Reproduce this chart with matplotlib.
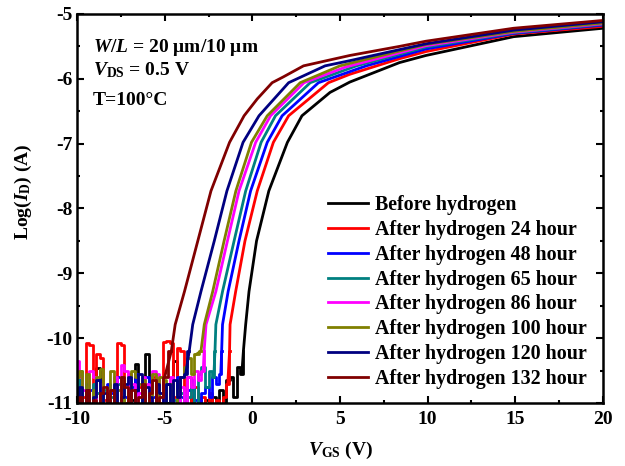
import matplotlib
matplotlib.use("Agg")
import matplotlib.pyplot as plt
from matplotlib.ticker import MultipleLocator

plt.rcParams['font.family'] = ['Liberation Serif', 'DejaVu Serif']
plt.rcParams['font.weight'] = 'bold'
plt.rcParams['axes.unicode_minus'] = False
plt.rcParams['mathtext.fontset'] = 'custom'
plt.rcParams['mathtext.rm'] = 'Liberation Serif:bold'
plt.rcParams['mathtext.bf'] = 'Liberation Serif:bold'
plt.rcParams['mathtext.it'] = 'Liberation Serif:bold:italic'

# gate voltage grid of the noisy off-current floor (V)
v_floor = [-10.0, -9.8, -9.6, -9.4, -9.2, -9.0, -8.8, -8.6, -8.4, -8.2,
           -8.0, -7.8, -7.6, -7.4, -7.2, -7.0, -6.8, -6.6, -6.4, -6.2,
           -6.0, -5.8, -5.6, -5.4, -5.2, -5.0, -4.8, -4.6, -4.4, -4.2,
           -4.0, -3.8, -3.6, -3.4, -3.2, -3.0, -2.8, -2.6, -2.4, -2.2,
           -2.0, -1.8, -1.6, -1.4, -1.2, -1.0, -0.8, -0.6]

labels = ["Before hydrogen", "After hydrogen 24 hour", "After hydrogen 48 hour",
          "After hydrogen 65 hour", "After hydrogen 86 hour", "After hydrogen 100 hour",
          "After hydrogen 120 hour", "After hydrogen 132 hour"]
colors = ["#000000", "#ff0000", "#0000ff", "#008080", "#ff00ff", "#808000",
          "#000080", "#800000"]

# off-state floor, log(ID) at the v_floor points
floor_0h = [-11.2, -11.1, -11.2, -11.05, -11.2, -11.1, -10.46, -11.15, -11.2, -11.05,
            -11.2, -11.1, -11.2, -11.0, -11.2, -11.1, -10.95, -10.4, -11.15, -11.0,
            -10.25, -11.1, -11.2, -11.05, -11.2, -11.1, -11.0, -11.15, -10.35, -11.1,
            -11.2, -11.05, -11.15, -10.9, -11.2, -11.05, -11.1, -10.95, -11.2, -10.9,
            -11.1, -10.8, -11.0, -10.65, -10.6, -10.9, -10.45, -10.55]
floor_24h = [-10.7, -11.1, -10.9, -10.08, -10.1, -11.0, -10.25, -10.3, -10.95, -11.1,
             -10.8, -11.05, -10.08, -10.1, -11.0, -10.55, -11.1, -10.9, -10.75, -10.7,
             -11.1, -10.95, -10.6, -10.8, -11.0, -10.06, -10.05, -10.08, -10.9, -10.15,
             -10.2, -10.9, -10.6, -11.0, -10.75, -11.1, -10.9, -11.05, -10.85, -11.1,
             -10.95, -11.1, -10.9, -10.7]
floor_48h = [-10.8, -10.6, -11.2, -10.7, -10.8, -11.15, -10.65, -10.95, -11.1, -10.7,
             -10.85, -11.1, -10.6, -11.0, -10.9, -11.15, -10.75, -10.55, -11.1, -10.8,
             -10.6, -11.05, -10.9, -10.65, -11.2, -10.95, -10.7, -10.85, -11.2, -10.6,
             -10.9, -11.15, -10.8, -10.65, -10.95, -11.2, -10.85, -10.75, -10.9, -10.6,
             -10.7, -10.55]
floor_65h = [-10.8, -10.5, -11.1, -10.75, -11.2, -10.7, -10.85, -11.15, -10.8, -11.0,
             -10.9, -11.2, -10.7, -10.95, -11.2, -10.8, -11.15, -10.9, -11.2, -10.75,
             -11.1, -10.85, -11.2, -10.7, -11.15, -10.9, -11.1, -10.75, -10.95, -11.1,
             -10.85, -11.15, -10.9, -10.7, -11.1, -10.55, -10.45, -10.75, -10.5, -10.6]
floor_86h = [-10.35, -10.6, -10.8, -11.2, -10.5, -10.6, -11.1, -10.7, -11.2, -10.8,
             -11.1, -10.6, -11.15, -10.42, -10.5, -11.1, -10.7, -11.2, -10.85, -10.6,
             -10.7, -11.2, -10.5, -10.55, -11.1, -10.9, -11.15, -10.6, -11.0, -11.2,
             -10.75, -11.1, -10.6, -10.75, -10.5, -10.65, -10.5]
floor_100h = [-10.6, -10.5, -11.1, -10.55, -11.2, -10.8, -10.6, -10.47, -11.1, -10.9,
              -10.5, -11.15, -10.8, -10.6, -11.2, -10.85, -10.5, -10.6, -10.7, -10.65,
              -11.2, -10.9, -10.55, -11.1, -10.6, -10.65, -11.1, -10.7, -11.2, -10.8,
              -10.6, -10.45, -10.3, -10.55, -10.25]
floor_120h = [-11.0, -10.75, -11.2, -10.8, -11.2, -10.9, -10.65, -11.1, -10.85, -10.95,
              -11.15, -10.7, -11.2, -10.9, -10.7, -10.6, -11.1, -10.8, -10.55, -11.05,
              -10.75, -10.9, -11.1, -10.7, -10.85, -11.1, -10.7, -11.0, -10.65, -10.9,
              -10.6, -10.55]
floor_132h = [-11.1, -10.9, -11.2, -10.8, -11.15, -10.95, -11.1, -10.85, -10.75, -11.2,
              -10.8, -11.0, -11.2, -10.6, -10.75, -11.1, -10.8, -11.15, -10.9, -10.7,
              -11.1, -10.85, -10.65, -11.1, -10.9, -10.6]

# turn-on branch: gate voltage (V) and log(ID)
v_on_0h = [-0.51, -0.38, -0.19, 0.24, 0.94, 2.0, 2.83, 4.43, 5.56, 8.39, 9.9, 14.9, 20.0]
y_on_0h = [-10.2, -9.79, -9.28, -8.5, -7.73, -6.98, -6.57, -6.21, -6.05, -5.75, -5.64, -5.35, -5.22]
v_on_24h = [-1.3, -1.27, -0.95, -0.42, 0.28, 1.2, 2.07, 4.34, 5.56, 8.39, 9.9, 14.9, 20.0]
y_on_24h = [-10.2, -9.79, -9.28, -8.5, -7.73, -6.98, -6.57, -6.06, -5.93, -5.69, -5.58, -5.31, -5.19]
v_on_48h = [-1.75, -1.7, -1.38, -0.76, -0.1, 0.85, 1.7, 3.77, 6.5, 9.9, 14.9, 20.0]
y_on_48h = [-10.2, -9.79, -9.28, -8.5, -7.73, -6.98, -6.57, -6.06, -5.8, -5.54, -5.30, -5.17]
v_on_65h = [-2.13, -2.08, -1.7, -1.04, -0.38, 0.5, 1.32, 3.3, 5.94, 9.9, 14.9, 20.0]
y_on_65h = [-10.2, -9.79, -9.28, -8.5, -7.73, -6.98, -6.57, -6.06, -5.8, -5.51, -5.29, -5.16]
v_on_86h = [-2.75, -2.64, -2.08, -1.42, -0.76, 0.19, 1.04, 2.95, 5.3, 9.9, 14.9, 20.0]
y_on_86h = [-10.2, -9.79, -9.28, -8.5, -7.73, -6.98, -6.57, -6.06, -5.82, -5.49, -5.28, -5.15]
v_on_100h = [-2.93, -2.74, -2.26, -1.61, -0.94, -0.05, 0.85, 2.73, 5.0, 9.9, 14.9, 20.0]
y_on_100h = [-10.2, -9.79, -9.28, -8.5, -7.73, -6.98, -6.57, -6.06, -5.8, -5.47, -5.27, -5.14]
v_on_120h = [-3.6, -3.4, -2.93, -2.17, -1.45, -0.53, 0.38, 2.07, 4.15, 5.56, 8.39, 9.9, 14.9, 20.0]
y_on_120h = [-10.2, -9.79, -9.28, -8.5, -7.73, -6.98, -6.57, -6.06, -5.8, -5.72, -5.55, -5.46, -5.25, -5.12]
v_on_132h = [-4.62, -4.4, -3.87, -3.11, -2.36, -1.3, -0.47, 0.28, 1.13, 1.77, 2.92, 5.56, 8.39, 9.9, 14.9, 20.0]
y_on_132h = [-10.2, -9.79, -9.28, -8.5, -7.73, -6.98, -6.57, -6.31, -6.06, -5.97, -5.8, -5.64, -5.5, -5.42, -5.22, -5.10]

floors = [floor_0h, floor_24h, floor_48h, floor_65h, floor_86h, floor_100h, floor_120h, floor_132h]
v_ons = [v_on_0h, v_on_24h, v_on_48h, v_on_65h, v_on_86h, v_on_100h, v_on_120h, v_on_132h]
y_ons = [y_on_0h, y_on_24h, y_on_48h, y_on_65h, y_on_86h, y_on_100h, y_on_120h, y_on_132h]

fig = plt.figure(figsize=(6.25, 4.66), dpi=100)
ax = fig.add_axes([0.1232, 0.1352, 0.8416, 0.8348])

for fl, vo, yo, c, lab in zip(floors, v_ons, y_ons, colors, labels):
    # noisy floor drawn as steps, then the turn-on branch
    ax.plot(v_floor[:len(fl)] + vo[:1], fl + yo[:1], color=c, lw=2.0,
            drawstyle='steps-mid')
    ax.plot(v_floor[len(fl) - 1:len(fl)] + vo, fl[-1:] + yo, color=c, lw=2.0,
            label=lab, solid_joinstyle='round')

ax.set_xlim(-10, 20)
ax.set_ylim(-11, -5)
ax.xaxis.set_major_locator(MultipleLocator(5))
ax.xaxis.set_minor_locator(MultipleLocator(2.5))
ax.yaxis.set_major_locator(MultipleLocator(1))
ax.yaxis.set_minor_locator(MultipleLocator(0.5))
ax.tick_params(which='both', direction='in', top=True, right=True, width=1.5,
               labelsize=14)
ax.tick_params(which='major', length=5)
ax.tick_params(which='minor', length=2.5)
ax.tick_params(axis='x', pad=6)
ax.tick_params(axis='y', pad=3.5)
for s in ax.spines.values():
    s.set_linewidth(1.8)

ax.set_xlabel(r"$V_{\rm GS}$ (V)", fontsize=14, fontweight='bold')
ax.set_ylabel(r"Log($I_{\rm D}$) (A)", fontsize=14, fontweight='bold')
ax.xaxis.set_label_coords(0.5, -0.095)
ax.yaxis.set_label_coords(-0.082, 0.543)

ax.text(0.030, 0.902, r"$W$/$L$ = 20 μm/10 μm", transform=ax.transAxes,
        fontsize=14, fontweight='bold', va='baseline')
ax.text(0.030, 0.843, r"$V_{\rm DS}$ = 0.5 V", transform=ax.transAxes,
        fontsize=14, fontweight='bold', va='baseline')
ax.text(0.030, 0.766, "T=100°C", transform=ax.transAxes,
        fontsize=14, fontweight='bold', va='baseline')

ax.legend(loc='upper left', bbox_to_anchor=(0.477, 0.534), frameon=False,
          fontsize=14.4, handlelength=2.0, handletextpad=0.35, labelspacing=0.24,
          borderpad=0, borderaxespad=0)

fig.savefig("out.png", dpi=100)
